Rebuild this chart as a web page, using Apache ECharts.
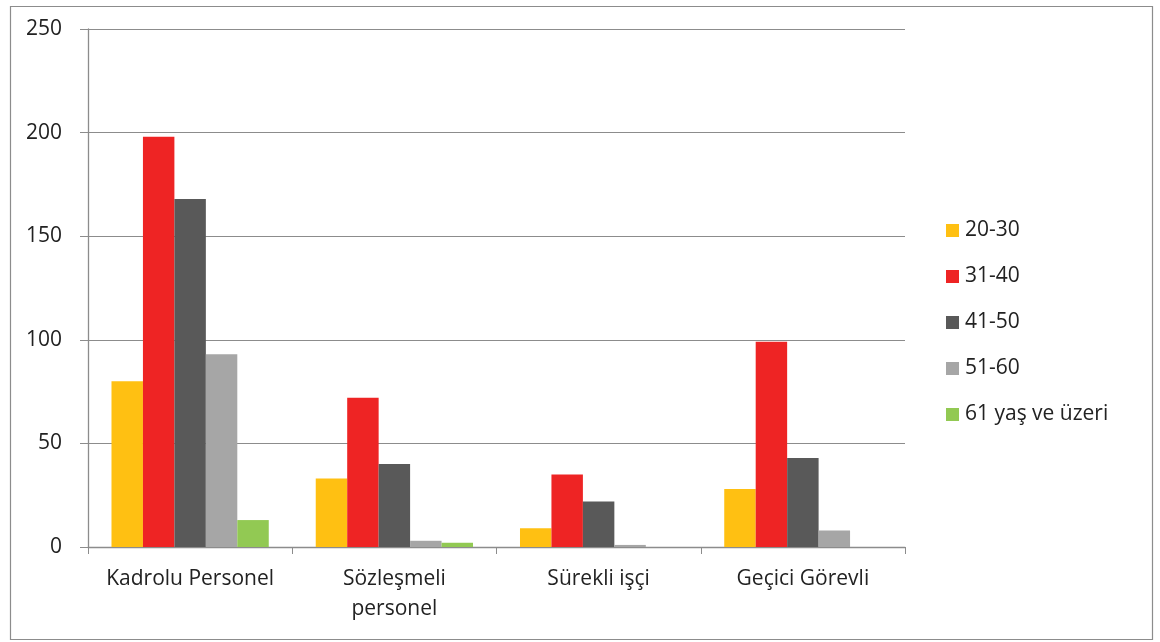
<!DOCTYPE html>
<html>
<head>
<meta charset="utf-8">
<script src="https://cdn.jsdelivr.net/npm/echarts@6/dist/echarts.min.js"></script>
<style>html,body{margin:0;padding:0;background:#fff}#c{width:1160px;height:642px}</style>
</head>
<body>
<div id="c"></div>
<script>
const categories = ['Kadrolu Personel', 'Sözleşmeli\npersonel', 'Sürekli işçi', 'Geçici Görevli'];
const seriesNames = ['20-30', '31-40', '41-50', '51-60', '61 yaş ve üzeri'];
const v2030 = [80, 33, 9, 28];
const v3140 = [198, 72, 35, 99];
const v4150 = [168, 40, 22, 43];
const v5160 = [93, 3, 1, 8];
const v61 = [13, 2, 0, 0];
const colors = ['#FFC012', '#EE2424', '#595959', '#A6A6A6', '#92C953'];
const allValues = [v2030, v3140, v4150, v5160, v61];

const chart = echarts.init(document.getElementById('c'));
const font = '"Open Sans", Lato, sans-serif';
chart.setOption({
  animation: false,
  color: colors,
  graphic: [{
    type: 'rect', left: 8, top: 4,
    shape: {width: 1142, height: 633},
    style: {fill: 'none', stroke: '#8c8c8c', lineWidth: 1.2}
  }],
  grid: {left: 88, right: 255, top: 29, bottom: 95, containLabel: false},
  legend: {
    orient: 'vertical', left: 946, top: 220, padding: 0,
    itemWidth: 13, itemHeight: 13, itemGap: 25,
    icon: 'rect',
    textStyle: {fontFamily: font, fontSize: 21, lineHeight: 20, color: '#222', padding: [0, 0, 0, 1]},
    data: seriesNames
  },
  xAxis: {
    type: 'category', data: categories,
    axisLine: {lineStyle: {color: '#8c8c8c', width: 1.3}},
    axisTick: {show: true, length: 7, alignWithLabel: false, lineStyle: {color: '#8c8c8c'}},
    axisLabel: {fontFamily: font, fontSize: 21, color: '#222', margin: 17, lineHeight: 30, interval: 0}
  },
  yAxis: {
    type: 'value', min: 0, max: 250, interval: 50,
    axisLine: {show: true, lineStyle: {color: '#8c8c8c', width: 1.3}},
    axisTick: {show: true, length: 8, lineStyle: {color: '#8c8c8c'}},
    splitLine: {lineStyle: {color: '#8c8c8c', width: 1.2}},
    axisLabel: {fontFamily: font, fontSize: 21, color: '#222', margin: 26}
  },
  series: seriesNames.map((n, i) => ({
    name: n, type: 'bar', data: allValues[i],
    barGap: '0%', barCategoryGap: '23%',
    itemStyle: {color: colors[i]}
  }))
});
</script>
</body>
</html>
